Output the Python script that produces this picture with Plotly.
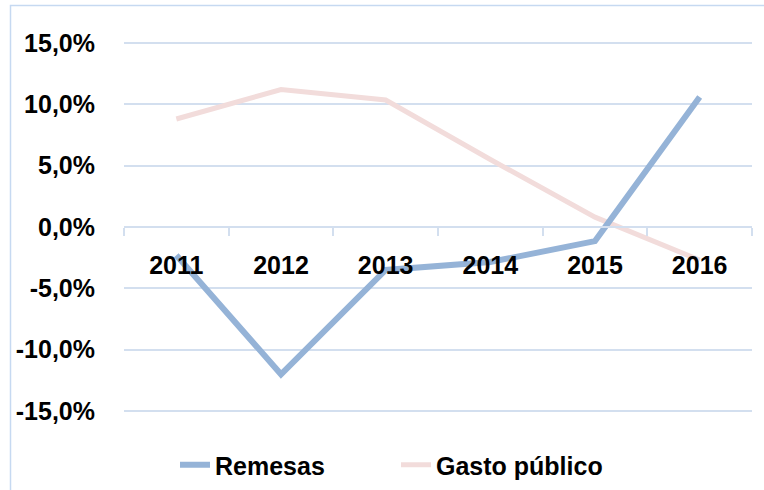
import plotly.graph_objects as go

years = ["2011", "2012", "2013", "2014", "2015", "2016"]
remesas = [-2.3, -12.0, -3.5, -2.85, -1.15, 10.6]
gasto = [8.8, 11.2, 10.35, 5.5, 0.8, -2.7]
ytick_vals = [15, 10, 5, 0, -5, -10, -15]
ytick_text = ["15,0%", "10,0%", "5,0%", "0,0%", "-5,0%", "-10,0%", "-15,0%"]

W, H = 764, 490
ML, MR, MT, MB = 124, 12, 30, 60
ymin, ymax = -16.54, 16.05
zero_frac = (0 - ymin) / (ymax - ymin)
pw, ph = W - ML - MR, H - MT - MB

def px_x(x):
    return (x - ML) / pw

def px_y(y):
    return (H - MB - y) / ph

font = dict(family="Liberation Sans, Arial, sans-serif", size=25, color="black")
grid_c = "#D3DFEF"

fig = go.Figure()
fig.add_trace(go.Scatter(x=years, y=gasto, mode="lines", name="Gasto público",
                         line=dict(color="#F2DCDB", width=5)))
fig.add_trace(go.Scatter(x=years, y=remesas, mode="lines", name="Remesas",
                         line=dict(color="#95B3D7", width=6)))

fig.update_layout(
    width=W, height=H,
    margin=dict(l=ML, r=MR, t=MT, b=MB, autoexpand=False),
    paper_bgcolor="white", plot_bgcolor="white",
    font=font,
    showlegend=True,
    legend=dict(orientation="h", x=px_x(175), y=px_y(465), xanchor="left", yanchor="middle",
                traceorder="reversed", font=dict(family=font["family"], size=25, color="black"),
                entrywidth=176, entrywidthmode="pixels", bgcolor="rgba(0,0,0,0)"),
    xaxis=dict(type="category", range=[-0.5, 5.5], anchor="free", position=zero_frac, showgrid=False,
               showline=True, linecolor=grid_c, linewidth=1.5, automargin=False,
               ticks="outside", tickson="boundaries", ticklen=8, tickcolor=grid_c, tickwidth=1.5,
               tickfont=dict(family=font["family"], size=25, color="black", weight="bold"),
               ticklabelstandoff=16, fixedrange=True),
    yaxis=dict(range=[ymin, ymax], tickvals=ytick_vals, ticktext=ytick_text, automargin=False,
               showgrid=True, gridcolor=grid_c, gridwidth=1.5, zeroline=False,
               showline=False, ticks="",
               tickfont=dict(family=font["family"], size=25, color="black", weight="bold"),
               ticklabelstandoff=28),
    shapes=[dict(type="rect", xref="paper", yref="paper",
                 x0=px_x(10.5), x1=px_x(800), y0=px_y(520), y1=px_y(5.5),
                 line=dict(color="#C6D9F1", width=1.5), fillcolor="rgba(0,0,0,0)", layer="below")],
)
fig.update_layout(legend_font_weight="bold")

fig.write_html("out.html", config={"displayModeBar": False},
               post_script="document.body.style.margin='0';document.body.style.overflow='hidden';")
